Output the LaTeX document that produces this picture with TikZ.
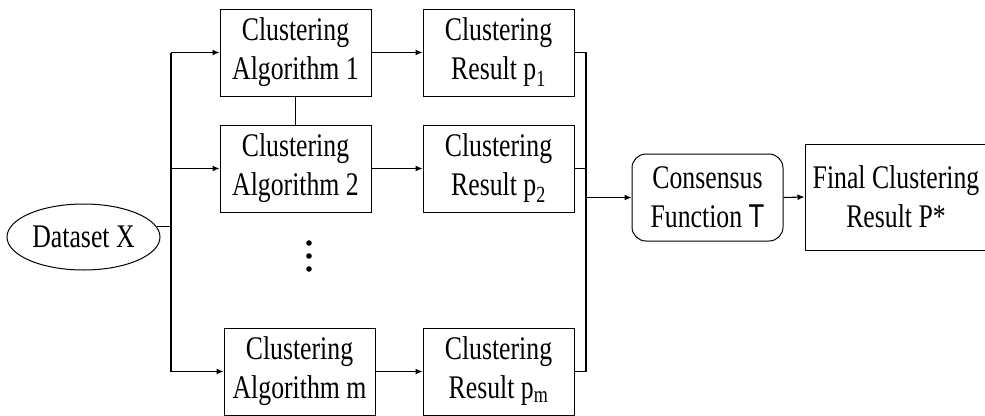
\documentclass[tikz,border=0pt]{standalone}
\usepackage{fontspec}
\setmainfont{Liberation Serif}[FakeStretch=0.78]
\setsansfont{Liberation Sans}[FakeStretch=0.78]
\usetikzlibrary{arrows.meta,shapes.geometric}
\begin{document}
\begin{tikzpicture}[x=1pt,y=-1pt,
  every node/.style={font=\fontsize{33}{39}\selectfont, align=center, inner sep=0pt},
  box/.style={draw, line width=1pt, minimum width=151pt, minimum height=87pt},
  rbox/.style={box, rounded corners=14pt},
  ln/.style={line width=1.1pt},
  arr/.style={ln, -{Latex[length=7pt,width=6pt]}}]
\useasboundingbox (0,0) rectangle (985,415);
\node[draw, ellipse, line width=1pt, minimum width=153pt, minimum height=66pt] (ds) at (83.5,237) {Dataset X};
\node[box] (alg1) at (295.5,52.5) {Clustering\\Algorithm 1};
\node[box] (alg2) at (295.5,168.5) {Clustering\\Algorithm 2};
\node[box, minimum height=87pt] (algm) at (299.5,371.5) {Clustering\\Algorithm m};
\node[box] (res1) at (498.5,52.5) {Clustering\\Result p\textsubscript{1}};
\node[box] (res2) at (498.5,168.5) {Clustering\\Result p\textsubscript{2}};
\node[box] (resm) at (498.5,371.5) {Clustering\\Result p\textsubscript{m}};
\node[rbox] (cons) at (707.5,197.5) {Consensus\\Function {\sffamily T}};
\node[box, minimum width=182pt, minimum height=106pt] (fin) at (896,197) {Final Clustering\\Result P*};
\coordinate (lb) at (171,0);
\coordinate (rb) at (586,0);
\draw[ln] (ds.8) -- (ds.8 -| lb);
\draw[ln] (lb |- alg1.west) -- (lb |- algm.west);
\draw[arr] (lb |- alg1.west) -- (alg1.west);
\draw[arr] (lb |- alg2.west) -- (alg2.west);
\draw[arr] (lb |- algm.west) -- (algm.west);
\draw[ln] (alg1.south) -- (alg2.north);
\draw[arr] (alg1.east) -- (res1.west);
\draw[arr] (alg2.east) -- (res2.west);
\draw[arr] (algm.east) -- (resm.west);
\draw[ln] (res1.east) -- (res1.east -| rb) -- (resm.east -| rb) -- (resm.east);
\draw[ln] (res2.east) -- (res2.east -| rb);
\draw[arr] (rb |- cons.west) -- (cons.west);
\draw[arr] (cons.east) -- (fin.west);
\fill (309,243) circle (2.8) (309,256) circle (2.8) (309,269) circle (2.8);
\end{tikzpicture}
\end{document}
